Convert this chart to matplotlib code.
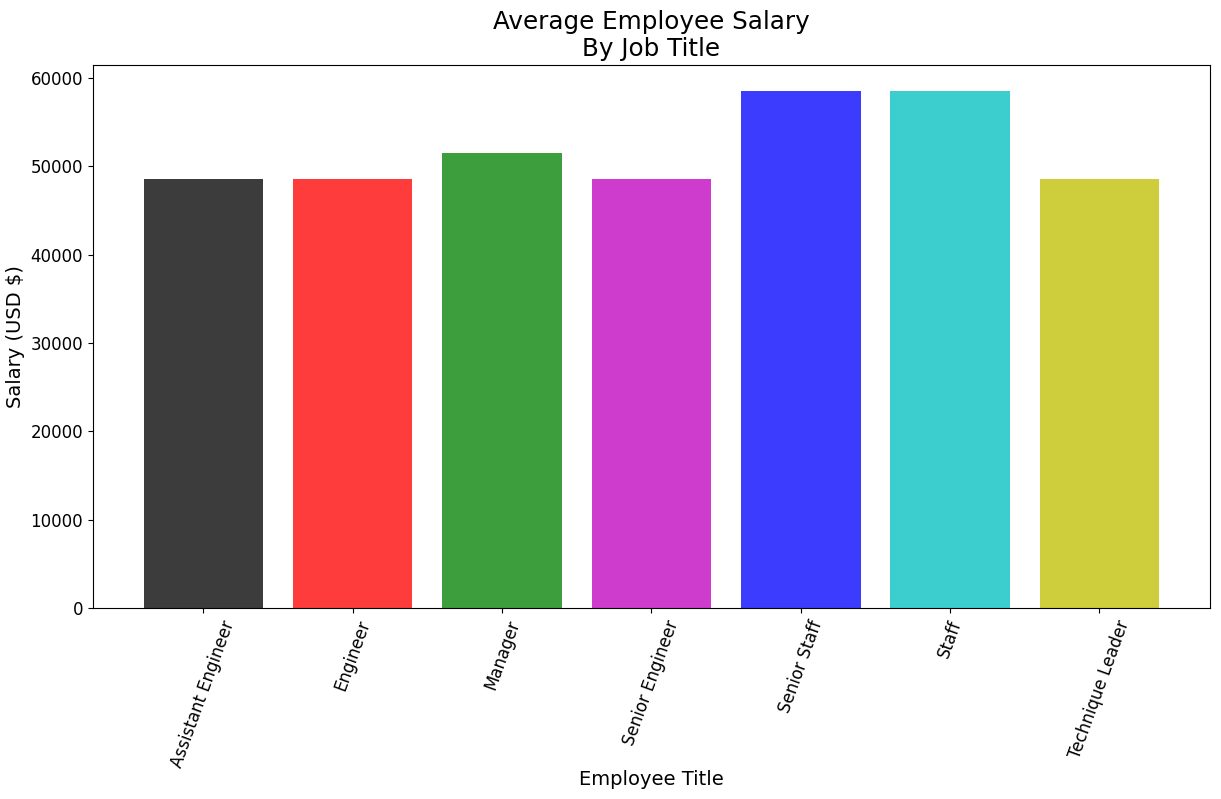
import numpy as np
import matplotlib
matplotlib.use("Agg")
import matplotlib.pyplot as plt

titles = ["Assistant Engineer", "Engineer", "Manager", "Senior Engineer",
          "Senior Staff", "Staff", "Technique Leader"]
salaries = [48493, 48535, 51531, 48507, 58550, 58465, 48581]
colors = ["k", "r", "g", "m", "b", "c", "y"]

fig = plt.figure(figsize=(12.21, 7.99), dpi=100)
ax = fig.add_subplot()
fig.subplots_adjust(left=0.076, right=0.991, top=0.919, bottom=0.239)

x = np.arange(len(titles))
ax.bar(x, salaries, color=colors, alpha=0.765, align="center")

ax.set_xticks(x)
ax.set_xticklabels(titles, rotation=70, fontsize=12)
ax.tick_params(axis="y", labelsize=12)
ax.set_title("Average Employee Salary\nBy Job Title", fontsize=17.7)
ax.set_xlabel("Employee Title", fontsize=14, labelpad=0)
ax.set_ylabel("Salary (USD $)", fontsize=14)

fig.savefig("out.png")
